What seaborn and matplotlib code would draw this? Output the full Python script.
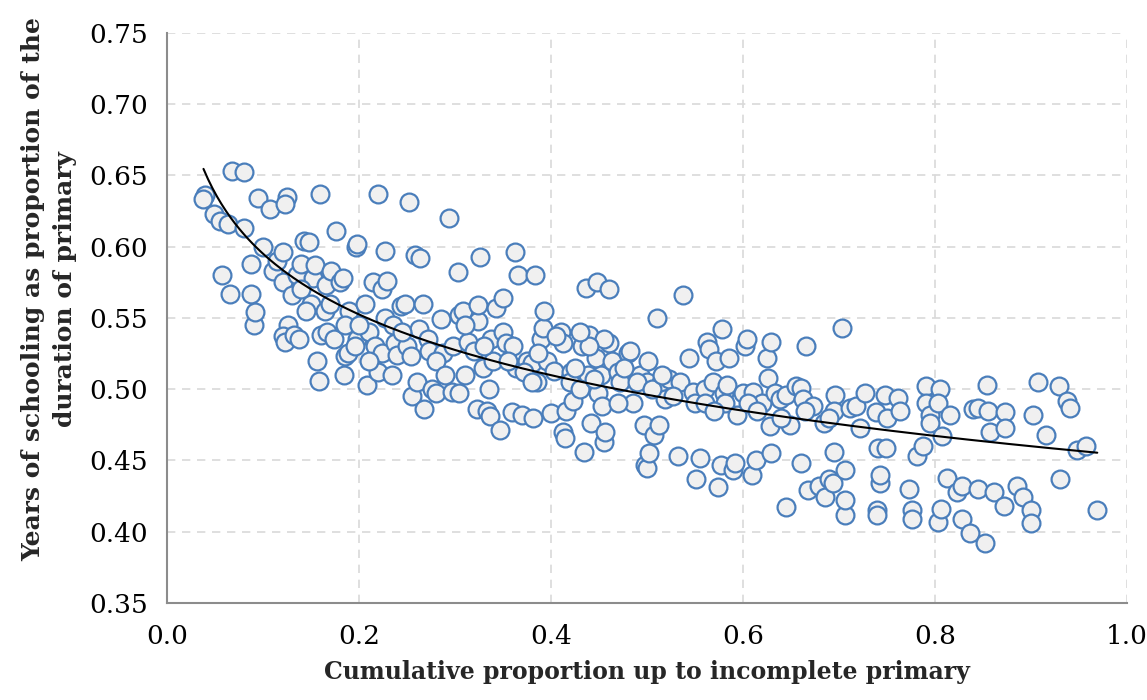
"""
Scatter of years of schooling (as a share of the primary cycle) against the
cumulative proportion of the population up to incomplete primary, with a
logarithmic trend line.
"""
import numpy as np
import pandas as pd
import matplotlib
matplotlib.use("Agg")
import matplotlib.pyplot as plt
import seaborn as sns

# values, one country per position
cum_share = [
    0.040, 0.038, 0.049, 0.055, 0.057, 0.066, 0.068, 0.080, 0.064, 0.080,
    0.087, 0.088, 0.091, 0.092, 0.095, 0.100, 0.107, 0.110, 0.115, 0.121,
    0.121, 0.125, 0.123, 0.126, 0.121, 0.123, 0.130, 0.132, 0.135, 0.140,
    0.143, 0.148, 0.138, 0.150, 0.152, 0.154, 0.159, 0.156, 0.158, 0.160,
    0.165, 0.166, 0.167, 0.171, 0.174, 0.176, 0.180, 0.183, 0.185, 0.184,
    0.189, 0.190, 0.197, 0.198, 0.198, 0.196, 0.206, 0.208, 0.210, 0.215,
    0.217, 0.220, 0.220, 0.224, 0.224, 0.229, 0.227, 0.227, 0.234, 0.238,
    0.240, 0.244, 0.248, 0.250, 0.252, 0.254, 0.258, 0.264, 0.255, 0.260,
    0.262, 0.267, 0.268, 0.272, 0.273, 0.276, 0.280, 0.285, 0.288, 0.294,
    0.297, 0.304, 0.298, 0.304, 0.303, 0.308, 0.314, 0.320, 0.323, 0.324,
    0.324, 0.326, 0.329, 0.333, 0.336, 0.337, 0.340, 0.343, 0.347, 0.350,
    0.350, 0.353, 0.359, 0.364, 0.363, 0.366, 0.370, 0.375, 0.380, 0.381,
    0.383, 0.385, 0.390, 0.392, 0.393, 0.396, 0.400, 0.403, 0.410, 0.412,
    0.413, 0.415, 0.416, 0.421, 0.420, 0.423, 0.432, 0.436, 0.434, 0.440,
    0.438, 0.442, 0.447, 0.448, 0.452, 0.449, 0.453, 0.455, 0.456, 0.460,
    0.460, 0.463, 0.470, 0.478, 0.480, 0.482, 0.485, 0.493, 0.500, 0.497,
    0.498, 0.500, 0.501, 0.502, 0.507, 0.510, 0.512, 0.515, 0.519, 0.523,
    0.534, 0.532, 0.537, 0.544, 0.548, 0.550, 0.551, 0.555, 0.560, 0.562,
    0.565, 0.569, 0.572, 0.574, 0.577, 0.578, 0.580, 0.581, 0.583, 0.585,
    0.590, 0.592, 0.594, 0.600, 0.602, 0.604, 0.609, 0.610, 0.614, 0.620,
    0.625, 0.626, 0.629, 0.629, 0.628, 0.633, 0.638, 0.645, 0.645, 0.649,
    0.655, 0.660, 0.660, 0.662, 0.666, 0.668, 0.673, 0.679, 0.684, 0.685,
    0.690, 0.694, 0.695, 0.696, 0.695, 0.703, 0.706, 0.706, 0.706, 0.711,
    0.718, 0.722, 0.727, 0.738, 0.741, 0.743, 0.743, 0.740, 0.740, 0.748,
    0.750, 0.749, 0.761, 0.764, 0.773, 0.776, 0.776, 0.781, 0.787, 0.791,
    0.791, 0.795, 0.805, 0.803, 0.795, 0.803, 0.806, 0.807, 0.812, 0.816,
    0.823, 0.828, 0.828, 0.836, 0.840, 0.845, 0.845, 0.852, 0.854, 0.855,
    0.857, 0.861, 0.873, 0.873, 0.872, 0.885, 0.892, 0.900, 0.900, 0.902,
    0.907, 0.916, 0.929, 0.930, 0.937, 0.941, 0.948, 0.957, 0.969,
    # points hidden in the denser middle of the cloud
    0.310, 0.330, 0.360, 0.372, 0.386, 0.405, 0.425, 0.430, 0.445, 0.455,
    0.472, 0.476, 0.490, 0.505, 0.516, 0.527, 0.140, 0.145, 0.170, 0.185,
    0.200, 0.210, 0.235, 0.245, 0.280, 0.290, 0.310, 0.335, 0.560, 0.570,
    0.605, 0.615, 0.640, 0.665, 0.690, 0.470, 0.380, 0.355, 0.440, 0.430,
]

years_share = [
    0.636, 0.633, 0.623, 0.618, 0.580, 0.567, 0.653, 0.652, 0.616, 0.613,
    0.588, 0.567, 0.545, 0.554, 0.634, 0.600, 0.626, 0.583, 0.590, 0.596,
    0.575, 0.635, 0.630, 0.545, 0.537, 0.533, 0.566, 0.538, 0.580, 0.588,
    0.604, 0.603, 0.535, 0.560, 0.578, 0.587, 0.637, 0.520, 0.506, 0.538,
    0.555, 0.573, 0.540, 0.583, 0.535, 0.611, 0.575, 0.578, 0.523, 0.510,
    0.525, 0.555, 0.600, 0.602, 0.535, 0.530, 0.560, 0.503, 0.540, 0.575,
    0.530, 0.637, 0.512, 0.525, 0.570, 0.576, 0.597, 0.550, 0.510, 0.532,
    0.524, 0.558, 0.560, 0.530, 0.631, 0.523, 0.594, 0.592, 0.495, 0.505,
    0.542, 0.560, 0.486, 0.535, 0.527, 0.500, 0.497, 0.549, 0.525, 0.620,
    0.498, 0.497, 0.530, 0.552, 0.582, 0.555, 0.533, 0.527, 0.486, 0.548,
    0.559, 0.593, 0.515, 0.485, 0.481, 0.535, 0.520, 0.557, 0.471, 0.564,
    0.540, 0.532, 0.484, 0.515, 0.596, 0.580, 0.482, 0.520, 0.518, 0.480,
    0.580, 0.505, 0.535, 0.543, 0.555, 0.520, 0.483, 0.513, 0.540, 0.532,
    0.470, 0.466, 0.485, 0.512, 0.505, 0.492, 0.530, 0.571, 0.456, 0.538,
    0.510, 0.476, 0.522, 0.575, 0.510, 0.497, 0.488, 0.463, 0.470, 0.532,
    0.570, 0.520, 0.512, 0.508, 0.525, 0.527, 0.490, 0.510, 0.505, 0.475,
    0.447, 0.445, 0.520, 0.455, 0.468, 0.550, 0.475, 0.505, 0.493, 0.507,
    0.505, 0.453, 0.566, 0.522, 0.498, 0.490, 0.437, 0.452, 0.500, 0.533,
    0.528, 0.505, 0.520, 0.431, 0.447, 0.542, 0.497, 0.490, 0.503, 0.522,
    0.443, 0.448, 0.482, 0.497, 0.530, 0.535, 0.440, 0.498, 0.450, 0.490,
    0.522, 0.508, 0.533, 0.455, 0.474, 0.497, 0.493, 0.496, 0.417, 0.475,
    0.502, 0.501, 0.448, 0.493, 0.530, 0.429, 0.488, 0.432, 0.476, 0.424,
    0.437, 0.434, 0.456, 0.496, 0.485, 0.543, 0.443, 0.412, 0.422, 0.487,
    0.488, 0.473, 0.497, 0.484, 0.459, 0.434, 0.440, 0.415, 0.412, 0.496,
    0.480, 0.459, 0.494, 0.485, 0.430, 0.415, 0.409, 0.453, 0.460, 0.502,
    0.490, 0.482, 0.500, 0.490, 0.476, 0.407, 0.416, 0.467, 0.438, 0.482,
    0.428, 0.432, 0.409, 0.399, 0.486, 0.487, 0.430, 0.392, 0.503, 0.485,
    0.470, 0.428, 0.484, 0.473, 0.418, 0.432, 0.424, 0.415, 0.406, 0.482,
    0.505, 0.468, 0.502, 0.437, 0.492, 0.487, 0.457, 0.460, 0.415,
    0.545, 0.530, 0.530, 0.512, 0.525, 0.537, 0.515, 0.500, 0.507, 0.535,
    0.505, 0.515, 0.505, 0.500, 0.510, 0.495, 0.570, 0.555, 0.560, 0.545,
    0.545, 0.520, 0.545, 0.540, 0.520, 0.510, 0.510, 0.500, 0.490, 0.485,
    0.490, 0.485, 0.480, 0.485, 0.480, 0.490, 0.505, 0.520, 0.530, 0.540,
]

y_ticks = [0.35, 0.40, 0.45, 0.50, 0.55, 0.60, 0.65, 0.70, 0.75]
x_ticks = [0.0, 0.2, 0.4, 0.6, 0.8, 1.0]


def main():
    df = pd.DataFrame({"cum_share": cum_share, "years_share": years_share})

    sns.set_style("white")
    plt.rcParams["font.family"] = ["DejaVu Serif"]

    fig = plt.figure(figsize=(11.47, 7.0), dpi=100)
    ax = fig.add_axes([0.1456, 0.1386, 0.8370, 0.8147])

    sns.scatterplot(data=df, x="cum_share", y="years_share", ax=ax,
                    s=165, color="#F0F0F0", edgecolor="#4A7EBB",
                    linewidth=1.6, zorder=3)

    # logarithmic trend line fitted to the points, like Excel's trendline
    b, a = np.polyfit(np.log(df["cum_share"]), df["years_share"], 1)
    xs = np.linspace(df["cum_share"].min(), df["cum_share"].max(), 200)
    ax.plot(xs, a + b * np.log(xs), color="black", linewidth=1.5, zorder=4)

    ax.set_xlim(0.0, 1.0)
    ax.set_ylim(0.35, 0.75)
    ax.set_xticks(x_ticks)
    ax.set_yticks(y_ticks)
    ax.set_xticklabels(["{:.1f}".format(t) for t in x_ticks])
    ax.set_yticklabels(["{:.2f}".format(t) for t in y_ticks])
    ax.tick_params(axis="both", labelsize=19, colors="#808080",
                   labelcolor="black", direction="out", length=6, width=1.3)
    ax.tick_params(axis="x", pad=9)
    ax.tick_params(axis="y", pad=8)

    ax.grid(True, linestyle=(0, (5, 4)), color="#D9D9D9", linewidth=1.2)
    ax.set_axisbelow(True)
    for side in ["top", "right"]:
        ax.spines[side].set_visible(False)
    for side in ["left", "bottom"]:
        ax.spines[side].set_color("#8C8C8C")
        ax.spines[side].set_linewidth(1.5)

    ax.set_xlabel("Cumulative proportion up to incomplete primary",
                  fontsize=17, fontweight="bold", labelpad=8)
    ax.set_ylabel("Years of schooling as proportion of the\n"
                  "duration of primary", fontsize=18, fontweight="bold",
                  linespacing=1.4)
    ax.yaxis.set_label_coords(-0.094, 0.55)

    fig.savefig("out.png", dpi=100)


if __name__ == "__main__":
    main()
